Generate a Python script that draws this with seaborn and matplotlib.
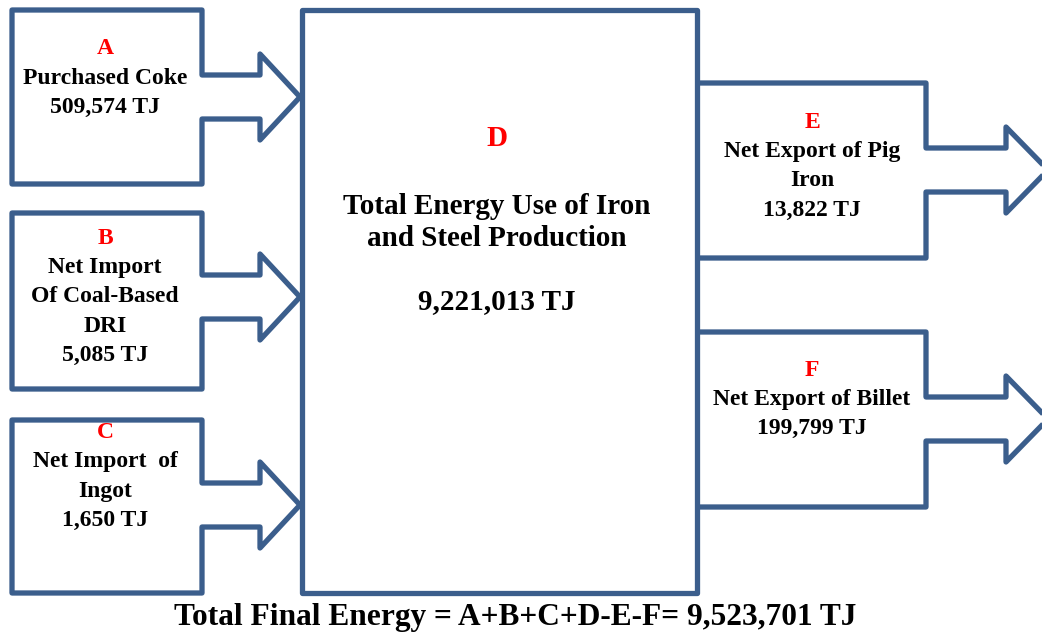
import matplotlib.pyplot as plt
import seaborn as sns
from matplotlib.patches import Polygon

# energy flows (TJ)
letters = ["A", "B", "C", "D", "E", "F"]
names = ["Purchased Coke", "Net Import\nOf Coal-Based\nDRI", "Net Import  of\nIngot",
         "Total Energy Use of Iron\nand Steel Production", "Net Export of Pig\nIron",
         "Net Export of Billet"]
values_tj = [509574, 5085, 1650, 9221013, 13822, 199799]
total_tj = 9523701

sns.set_style("white")
plt.rcParams['font.family'] = ['Liberation Serif', 'DejaVu Serif']
plt.rcParams['text.color'] = 'black'

EDGE = "#3B5E8C"

fig = plt.figure(figsize=(10.42, 6.34), dpi=100)
ax = fig.add_axes([0, 0, 1, 1])
ax.set_xlim(0, 1042)
ax.set_ylim(634, 0)
ax.axis("off")


def in_box(y0, y1, tip):
    # box on the left with an arrow pointing into the central box
    pts = [(12, y0), (202, y0), (202, tip - 22), (260, tip - 22), (260, tip - 43),
           (300, tip), (260, tip + 43), (260, tip + 22), (202, tip + 22), (202, y1), (12, y1)]
    ax.add_patch(Polygon(pts, closed=True, fill=False, ec=EDGE, lw=3.8, joinstyle="round"))


def out_box(y0, y1, tip):
    pts = [(697, y0), (926, y0), (926, tip - 22), (1006, tip - 22), (1006, tip - 43),
           (1048, tip), (1006, tip + 43), (1006, tip + 22), (926, tip + 22), (926, y1), (697, y1)]
    ax.add_patch(Polygon(pts, closed=False, fill=False, ec=EDGE, lw=3.8, joinstyle="round"))


in_box(10, 184, 97)
in_box(213, 389, 297)
in_box(420, 593, 505)
out_box(83, 258, 170)
out_box(332, 507, 419)
ax.add_patch(Polygon([(302, 10), (697, 10), (697, 593), (302, 593)], closed=True,
                     fill=False, ec=EDGE, lw=3.8, joinstyle="round"))


def label(x, y, i, step=29, size=17):
    ax.text(x, y, letters[i], color="red", fontsize=size, fontweight="bold", ha="center", va="center")
    lines = names[i].split("\n") + [f"{values_tj[i]:,} TJ"]
    for k, line in enumerate(lines):
        ax.text(x, y + step * (k + 1), line, fontsize=size, fontweight="bold",
                ha="center", va="center")


label(105, 49, 0)
label(105, 239, 1)
label(105, 433, 2)
label(812, 123, 4)
label(812, 370, 5)

# central box
ax.text(497, 139, letters[3], color="red", fontsize=21, fontweight="bold", ha="center", va="center")
for k, line in enumerate(names[3].split("\n")):
    ax.text(497, 206 + 33 * k, line, fontsize=21, fontweight="bold", ha="center", va="center")
ax.text(497, 302, f"{values_tj[3]:,} TJ", fontsize=21, fontweight="bold", ha="center", va="center")

ax.text(515, 617, "Total Final Energy = " + "+".join(letters[:4]) + "-" + "-".join(letters[4:])
        + f"= {total_tj:,} TJ", fontsize=22.6, fontweight="bold", ha="center", va="center")

fig.savefig("out.png", dpi=100)
